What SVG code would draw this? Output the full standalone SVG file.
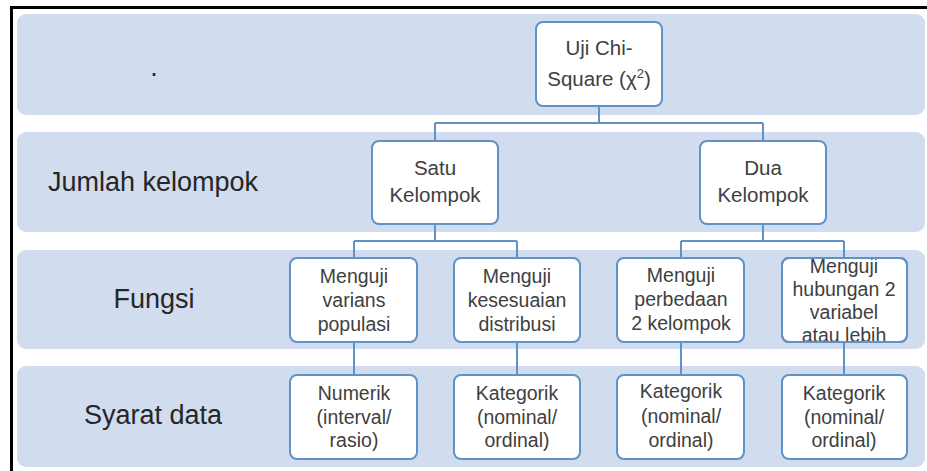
<svg xmlns="http://www.w3.org/2000/svg" width="927" height="471" viewBox="0 0 927 471">
<style>
.band{fill:#D1DCEE}
.node{fill:#FFFFFF;stroke:#5E92C8;stroke-width:2}
.conn{fill:none;stroke:#5E92C8;stroke-width:2}
.t{font-family:"Liberation Sans",Arial,sans-serif;font-size:19.5px;fill:#404040;text-anchor:middle}
.tl{font-family:"Liberation Sans",Arial,sans-serif;font-size:20.5px;fill:#404040;text-anchor:middle}
.lab{font-family:"Liberation Sans",Arial,sans-serif;font-size:27px;fill:#262626;text-anchor:middle}
</style>
<defs>
<clipPath id="c4"><rect x="782" y="258" width="125" height="84" rx="7"/></clipPath>
</defs>
<rect x="0" y="0" width="927" height="471" fill="#FFFFFF"/>
<rect x="11.5" y="7.5" width="940" height="480" fill="none" stroke="#000000" stroke-width="3"/>
<g id="bands">
<rect class="band" x="17" y="14" width="908" height="101" rx="9"/>
<rect class="band" x="17" y="132" width="908" height="100" rx="9"/>
<rect class="band" x="17" y="250" width="908" height="99" rx="9"/>
<rect class="band" x="17" y="366" width="908" height="101" rx="9"/>
</g>
<g id="labels">
<text class="lab" x="154" y="76">.</text>
<text class="lab" x="153" y="191">Jumlah kelompok</text>
<text class="lab" x="154" y="308">Fungsi</text>
<text class="lab" x="153" y="424">Syarat data</text>
</g>
<g id="connectors">
<path class="conn" d="M599 106V123M435 123H763M435 123V141M763 123V141"/>
<path class="conn" d="M435 224V241M354 241H517M354 241V258M517 241V258"/>
<path class="conn" d="M763 224V241M681 241H844M681 241V258M844 241V258"/>
<path class="conn" d="M354 342V375M517 342V375M681 342V375M844 342V375"/>
</g>
<g id="n-root">
<rect class="node" x="536" y="22" width="126" height="84" rx="7"/>
<text class="tl" x="599" y="55">Uji Chi-</text>
<text class="tl" x="599" y="86">Square (χ<tspan font-size="13" dy="-8">2</tspan><tspan dy="8">)</tspan></text>
</g>
<g id="n-satu">
<rect class="node" x="372" y="141" width="126" height="83" rx="7"/>
<text class="tl" x="435" y="175">Satu</text>
<text class="tl" x="435" y="202">Kelompok</text>
</g>
<g id="n-dua">
<rect class="node" x="700" y="141" width="126" height="83" rx="7"/>
<text class="tl" x="763" y="175">Dua</text>
<text class="tl" x="763" y="202">Kelompok</text>
</g>
<g id="n-varians">
<rect class="node" x="290" y="258" width="127" height="84" rx="7"/>
<text class="t" x="354" y="283">Menguji</text>
<text class="t" x="354" y="307">varians</text>
<text class="t" x="354" y="331">populasi</text>
</g>
<g id="n-kesesuaian">
<rect class="node" x="454" y="258" width="126" height="84" rx="7"/>
<text class="t" x="517" y="283">Menguji</text>
<text class="t" x="517" y="307">kesesuaian</text>
<text class="t" x="517" y="331">distribusi</text>
</g>
<g id="n-perbedaan">
<rect class="node" x="617" y="258" width="127" height="84" rx="7"/>
<text class="t" x="681" y="282">Menguji</text>
<text class="t" x="681" y="306">perbedaan</text>
<text class="t" x="681" y="330">2 kelompok</text>
</g>
<g id="n-hubungan">
<rect class="node" x="782" y="258" width="125" height="84" rx="7"/>
<g clip-path="url(#c4)">
<text class="t" x="844" y="273">Menguji</text>
<text class="t" x="844" y="296">hubungan 2</text>
<text class="t" x="844" y="319">variabel</text>
<text class="t" x="844" y="342">atau lebih</text>
</g>
<rect x="782" y="258" width="125" height="84" rx="7" fill="none" stroke="#5E92C8" stroke-width="2"/>
</g>
<g id="n-numerik">
<rect class="node" x="290" y="375" width="127" height="84" rx="7"/>
<text class="t" x="354" y="400">Numerik</text>
<text class="t" x="354" y="424">(interval/</text>
<text class="t" x="354" y="447">rasio)</text>
</g>
<g id="n-kat1">
<rect class="node" x="454" y="375" width="126" height="84" rx="7"/>
<text class="t" x="517" y="400">Kategorik</text>
<text class="t" x="517" y="424">(nominal/</text>
<text class="t" x="517" y="447">ordinal)</text>
</g>
<g id="n-kat2">
<rect class="node" x="617" y="375" width="127" height="84" rx="7"/>
<text class="t" x="681" y="398">Kategorik</text>
<text class="t" x="681" y="423">(nominal/</text>
<text class="t" x="681" y="447">ordinal)</text>
</g>
<g id="n-kat3">
<rect class="node" x="782" y="375" width="125" height="84" rx="7"/>
<text class="t" x="844" y="400">Kategorik</text>
<text class="t" x="844" y="424">(nominal/</text>
<text class="t" x="844" y="447">ordinal)</text>
</g>
</svg>
